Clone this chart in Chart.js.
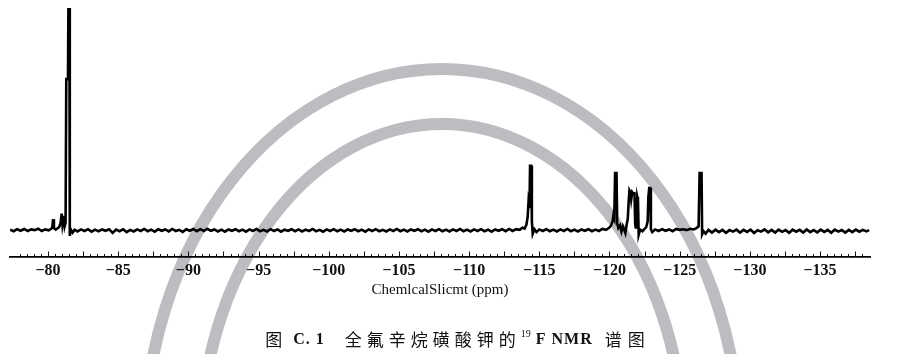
<!DOCTYPE html>
<html>
<head>
<meta charset="utf-8">
<script src="https://cdn.jsdelivr.net/npm/chart.js@4.4.1/dist/chart.umd.min.js"></script>
<style>
  body { margin: 0; background: #fff; }
</style>
</head>
<body>
<canvas id="myChart" width="911" height="354"></canvas>
<script>

// spectrum, [shift ppm, intensity]
const cf3Region = [
  [-77.30, 0.3], [-77.55, -0.4], [-77.80, 0.5], [-78.05, -0.2], [-78.30, 0.6], [-78.55, -0.3],
  [-78.80, 0.4], [-79.05, 0.1], [-79.30, 0.7], [-79.55, -0.3], [-79.80, 0.4], [-80.05, 0.0],
  [-80.20, 0.6], [-80.30, 1.2], [-80.36, 5.0], [-80.42, 1.0], [-80.55, 0.3], [-80.68, 0.9],
  [-80.80, 1.5], [-80.90, 3.5], [-80.97, 7.5], [-81.03, 2.5], [-81.08, 4.5], [-81.13, 6.5],
  [-81.19, 2.0], [-81.25, 3.5], [-81.30, 68], [-81.42, 68], [-81.45, 100], [-81.52, 100],
  [-81.55, -2.5], [-81.62, 0.4], [-81.75, -1.0], [-81.90, 0.3]
];

const midBaseline = [
  [-82.10, -0.5], [-82.35, 0.4], [-82.60, -0.3], [-82.85, 0.5], [-83.10, -0.6], [-83.35, 0.3],
  [-83.60, -0.4], [-83.85, 0.4], [-84.10, -0.2], [-84.35, 0.5], [-84.60, -1.2], [-84.85, 0.3],
  [-85.10, -0.4], [-85.35, 0.5], [-85.60, -0.8], [-85.85, 0.2], [-86.10, -0.5], [-86.35, 0.4],
  [-86.60, -0.3], [-86.85, 0.6], [-87.10, -0.4], [-87.35, 0.3], [-87.60, -0.6], [-87.85, 0.5],
  [-88.10, -0.2], [-88.35, 0.4], [-88.60, -0.5], [-88.85, 0.6], [-89.10, -0.3], [-89.35, 0.2],
  [-89.60, -0.7], [-89.85, 0.5], [-90.10, -0.2], [-90.35, 0.6], [-90.60, -0.4], [-90.85, 0.5],
  [-91.10, -0.3], [-91.35, 0.7], [-91.60, -0.2], [-91.85, 0.4], [-92.10, -0.5], [-92.35, 0.3],
  [-92.60, -0.6], [-92.85, 0.4], [-93.10, -0.2], [-93.35, 0.5], [-93.60, -0.4], [-93.85, 0.3],
  [-94.10, -0.6], [-94.35, 0.4], [-94.60, -0.3], [-94.85, 0.6], [-95.10, -0.4], [-95.35, 0.2],
  [-95.60, -0.5], [-95.85, 0.5], [-96.10, -0.3], [-96.35, 0.4], [-96.60, -0.6], [-96.85, 0.3],
  [-97.10, -0.2], [-97.35, 0.5], [-97.60, -0.4], [-97.85, 0.4], [-98.10, -0.5], [-98.35, 0.3],
  [-98.60, -0.3], [-98.85, 0.6], [-99.10, -0.4], [-99.35, 0.2], [-99.60, -0.6], [-99.85, 0.4],
  [-100.10, -0.3], [-100.35, 0.5], [-100.60, -0.4], [-100.85, 0.3], [-101.10, -0.5], [-101.35, 0.4],
  [-101.60, -0.2], [-101.85, 0.5], [-102.10, -0.4], [-102.35, 0.3], [-102.60, -0.6], [-102.85, 0.4],
  [-103.10, -0.3], [-103.35, 0.5], [-103.60, -0.4], [-103.85, 0.2], [-104.10, -0.5], [-104.35, 0.4],
  [-104.60, -0.3], [-104.85, 0.6], [-105.10, -0.4], [-105.35, 0.3], [-105.60, -0.5], [-105.85, 0.4],
  [-106.10, -0.2], [-106.35, 0.5], [-106.60, -0.4], [-106.85, 0.3], [-107.10, -0.6], [-107.35, 0.4],
  [-107.60, -0.3], [-107.85, 0.5], [-108.10, -0.4], [-108.35, 0.3], [-108.60, -0.5], [-108.85, 0.4],
  [-109.10, -0.3], [-109.35, 0.6], [-109.60, -0.4], [-109.85, 0.3], [-110.10, -0.5], [-110.35, 0.4],
  [-110.60, -0.3], [-110.85, 0.5], [-111.10, -0.4], [-111.35, 0.3], [-111.60, -0.6], [-111.85, 0.4],
  [-112.10, -0.2], [-112.35, 0.5], [-112.60, -0.4], [-112.85, 0.6], [-113.10, -0.3], [-113.35, 0.5]
];

const peak114 = [
  [-113.60, 0.2], [-113.80, 1.2], [-113.95, 0.8], [-114.08, 2.5], [-114.17, 6.0], [-114.23, 12.7],
  [-114.30, 10.0], [-114.34, 29], [-114.42, 29], [-114.47, 4.0], [-114.53, -1.5], [-114.65, 0.5],
  [-114.80, -0.8], [-115.00, 0.4], [-115.25, -0.3], [-115.50, 0.5], [-115.75, -0.4], [-116.00, 0.3],
  [-116.25, -0.5], [-116.50, 0.4], [-116.75, -0.3], [-117.00, 0.6], [-117.25, -0.4], [-117.50, 0.3],
  [-117.75, -0.5], [-118.00, 0.4], [-118.25, -0.2], [-118.50, 0.5], [-118.75, -0.4], [-119.00, 0.3],
  [-119.25, -0.3], [-119.50, 0.6], [-119.75, 0.2]
];

const cf2Cluster = [
  [-119.95, 1.0], [-120.10, 2.0], [-120.22, 4.0], [-120.28, 6.7], [-120.34, 5.5], [-120.40, 25.8],
  [-120.50, 25.8], [-120.55, 3.0], [-120.63, 1.0], [-120.75, 2.2], [-120.85, -0.5], [-120.95, 1.8],
  [-121.05, 0.2], [-121.13, -1.2], [-121.22, 2.5], [-121.30, 5.0], [-121.36, 12], [-121.42, 18],
  [-121.50, 17], [-121.55, 14], [-121.62, 17.2], [-121.70, 16.5], [-121.78, 16.6], [-121.83, 3.0],
  [-121.88, 0.8], [-121.94, 4.0], [-121.98, 15], [-122.03, 13.5], [-122.08, -2.0], [-122.18, 0.3],
  [-122.35, -0.4], [-122.50, 0.6], [-122.62, 1.5], [-122.72, 4.0], [-122.77, 15], [-122.83, 19],
  [-122.90, 19], [-122.95, 0.5], [-123.05, -0.8], [-123.25, 0.4], [-123.50, -0.3], [-123.75, 0.5],
  [-124.00, -0.2], [-124.25, 0.4], [-124.50, -0.4], [-124.75, 0.6], [-125.00, 0.2], [-125.25, 0.5],
  [-125.50, 0.1], [-125.75, 0.7], [-126.00, 0.4], [-126.20, 1.0], [-126.35, 1.8], [-126.42, 25.8],
  [-126.56, 25.8], [-126.60, -1.8], [-126.70, -0.4]
];

const tailBaseline = [
  [-126.85, -1.5], [-127.05, 0.2], [-127.30, -1.0], [-127.55, 0.3], [-127.80, -0.8], [-128.05, 0.2],
  [-128.30, -1.1], [-128.55, 0.1], [-128.80, -0.6], [-129.05, 0.3], [-129.30, -1.0], [-129.55, 0.2],
  [-129.80, -0.7], [-130.05, 0.3], [-130.30, -1.2], [-130.55, 0.0], [-130.80, -0.6], [-131.05, 0.4],
  [-131.30, -0.9], [-131.55, 0.2], [-131.80, -1.0], [-132.05, 0.3], [-132.30, -0.7], [-132.55, 0.1],
  [-132.80, -1.1], [-133.05, 0.3], [-133.30, -0.6], [-133.55, 0.2], [-133.80, -1.0], [-134.05, 0.4],
  [-134.30, -0.8], [-134.55, 0.1], [-134.80, -0.9], [-135.05, 0.3], [-135.30, -0.7], [-135.55, 0.2],
  [-135.80, -1.1], [-136.05, 0.3], [-136.30, -0.6], [-136.55, 0.1], [-136.80, -1.0], [-137.05, 0.2],
  [-137.30, -0.8], [-137.55, 0.3], [-137.80, -0.6], [-138.05, 0.2], [-138.30, -0.5], [-138.50, 0.1]
];

const tickPpm = [-80, -85, -90, -95, -100, -105, -110, -115, -120, -125, -130, -135];
const axisTitle = 'ChemlcalSlicmt (ppm)';


const spectrum = [...cf3Region, ...midBaseline, ...peak114, ...cf2Cluster, ...tailBaseline]
  .map(p => ({ x: p[0], y: p[1] }));

// grey watermark arcs behind everything
const watermark = {
  id: 'watermark',
  beforeDraw(chart) {
    const ctx = chart.ctx;
    ctx.save();
    ctx.fillStyle = '#fff';
    ctx.fillRect(0, 0, chart.width, chart.height);
    ctx.strokeStyle = 'rgb(188,189,192)';
    ctx.lineWidth = 12;
    ctx.beginPath();
    ctx.ellipse(442, 450, 298, 381, 0, 0, Math.PI * 2);
    ctx.stroke();
    ctx.beginPath();
    ctx.ellipse(442, 450, 242, 326, 0, 0, Math.PI * 2);
    ctx.stroke();
    ctx.restore();
  }
};

// small ticks pointing up from the axis line, every 0.5 ppm
const minorTicks = {
  id: 'minorTicks',
  afterDraw(chart) {
    const ctx = chart.ctx;
    const xs = chart.scales.x;
    const y0 = chart.chartArea.bottom;
    ctx.save();
    ctx.strokeStyle = '#111';
    ctx.lineWidth = 1;
    for (let v = -138; v <= -78; v += 0.5) {
      const px = Math.round(xs.getPixelForValue(v)) + 0.5;
      let len = 3;
      if (v % 2.5 === 0) len = 5.5;
      ctx.beginPath();
      ctx.moveTo(px, y0);
      ctx.lineTo(px, y0 - len);
      ctx.stroke();
    }
    ctx.restore();
  }
};

// figure caption under the axis
const caption = {
  id: 'caption',
  afterDraw(chart) {
    const ctx = chart.ctx;
    const cjk = '17px "Noto Sans CJK SC"';
    const lat = 'bold 16px "Liberation Serif"';
    const sup = '10px "Liberation Serif"';
    const parts = [
      ['图', cjk, 0, 6], [' C. 1', lat, 0, 1], ['     ', lat, 0, 0],
      ['全氟辛烷磺酸钾的', cjk, 0, 5], ['19', sup, -6, 0], [' F NMR', lat, 0, 1], ['   ', lat, 0, 0],
      ['谱图', cjk, 0, 6]
    ];
    ctx.save();
    ctx.fillStyle = '#111';
    ctx.textBaseline = 'middle';
    let total = 0;
    const widths = parts.map(p => {
      ctx.font = p[1];
      ctx.letterSpacing = p[3] + 'px';
      const w = ctx.measureText(p[0]).width;
      total += w;
      return w;
    });
    let x = 458 - total / 2;
    parts.forEach((p, i) => {
      ctx.font = p[1];
      ctx.letterSpacing = p[3] + 'px';
      ctx.fillText(p[0], x, 340 + p[2]);
      x += widths[i];
    });
    ctx.restore();
  }
};

const config = {
  type: 'line',
  data: {
    datasets: [{
      data: spectrum,
      borderColor: '#000',
      borderWidth: 2.6,
      pointRadius: 0,
      tension: 0
    }]
  },
  options: {
    responsive: false,
    animation: false,
    layout: { padding: { left: 10, right: 41, top: 8, bottom: 0 } },
    plugins: { legend: { display: false }, tooltip: { enabled: false } },
    scales: {
      x: {
        type: 'linear',
        reverse: true,
        min: -138.56,
        max: -77.29,
        afterBuildTicks: s => { s.ticks = tickPpm.map(v => ({ value: v })); },
        afterFit: s => { s.height = 97; },
        grid: { display: false, drawTicks: false },
        border: { display: true, color: '#000', width: 1.8 },
        ticks: {
          autoSkip: false,
          maxRotation: 0,
          padding: 4,
          color: '#111',
          font: { family: 'Liberation Serif', size: 16, weight: 'bold' },
          callback: v => '\u2212' + Math.abs(v)
        },
        title: {
          display: true,
          text: axisTitle,
          color: '#111',
          font: { family: 'Liberation Serif', size: 15 },
          padding: { top: 0, bottom: 55 }
        }
      },
      y: {
        display: false,
        min: -12,
        max: 100
      }
    }
  },
  plugins: [watermark, minorTicks, caption]
};

const myChart = new Chart(
  document.getElementById('myChart'),
  config
);
</script>
</body>
</html>
